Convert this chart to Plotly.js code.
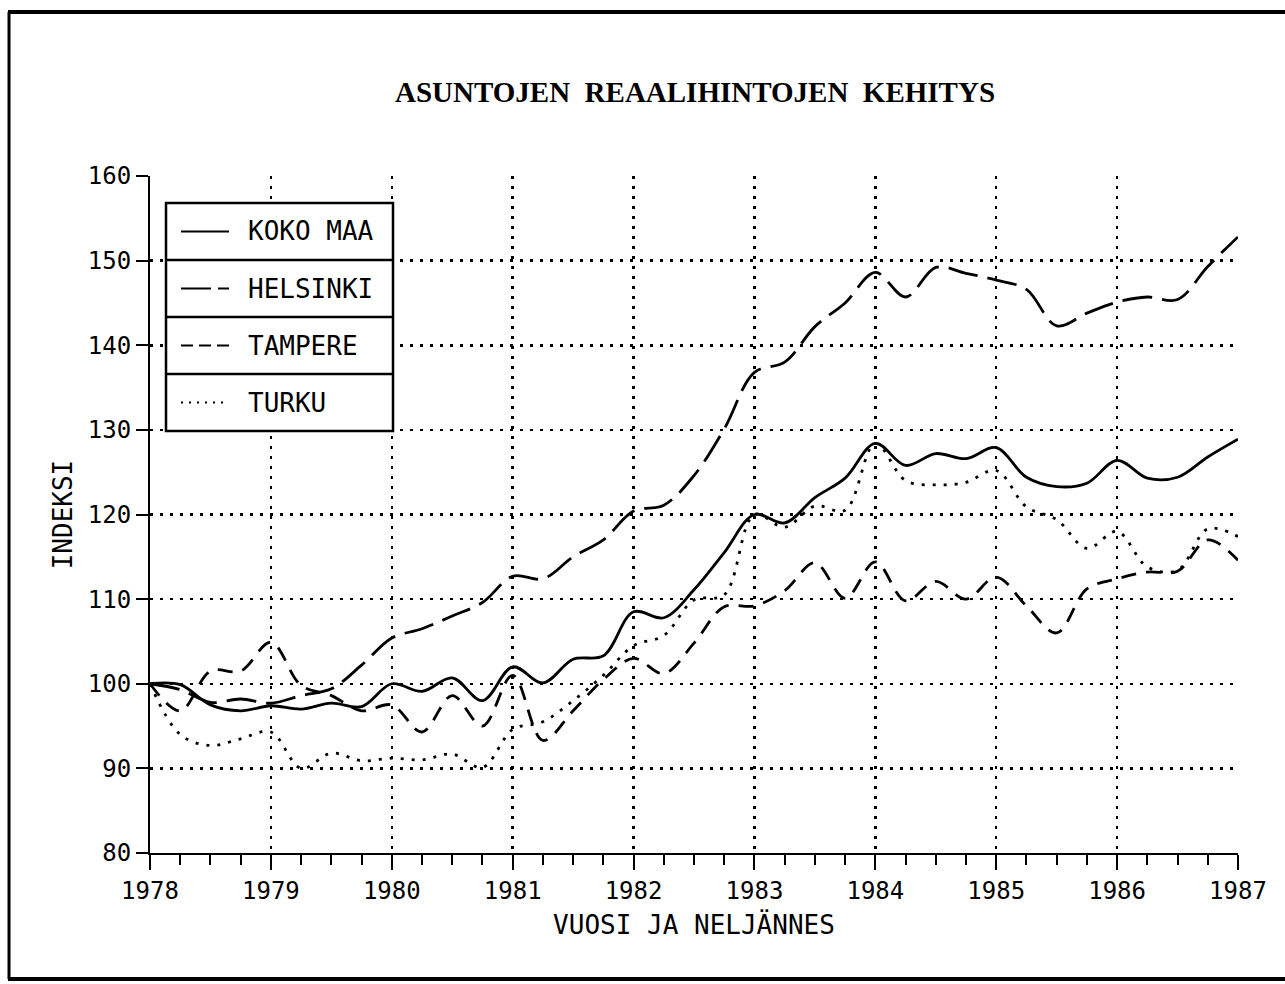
<!DOCTYPE html>
<html><head><meta charset="utf-8">
<script src="https://cdn.plot.ly/plotly-3.0.1.min.js"></script>
<style>html,body{margin:0;padding:0;background:#fff}#chart{width:1285px;height:984px}</style>
</head><body><div id="chart"></div>
<script>
const quarters = [1978.00,1978.25,1978.50,1978.75,1979.00,1979.25,1979.50,1979.75,
  1980.00,1980.25,1980.50,1980.75,1981.00,1981.25,1981.50,1981.75,
  1982.00,1982.25,1982.50,1982.75,1983.00,1983.25,1983.50,1983.75,
  1984.00,1984.25,1984.50,1984.75,1985.00,1985.25,1985.50,1985.75,
  1986.00,1986.25,1986.50,1986.75,1987.00];
const kokoMaa = [100.0,99.9,97.5,96.8,97.4,97.0,97.7,97.3,
  100.0,99.1,100.7,98.0,102.0,100.1,102.9,103.3,
  108.5,107.8,111.1,115.5,120.0,119.0,122.0,124.3,
  128.4,125.8,127.2,126.6,127.9,124.4,123.3,123.7,
  126.4,124.3,124.4,126.8,128.9];
const helsinki = [100.0,99.3,97.8,98.2,97.7,98.6,99.4,102.2,
  105.4,106.5,108.0,109.6,112.7,112.4,115.0,117.0,
  120.4,121.1,124.6,130.1,136.8,138.0,142.2,145.0,
  148.6,145.7,149.2,148.5,147.7,146.6,142.3,143.8,
  145.1,145.7,145.4,149.3,152.8];
const tampere = [100.0,96.8,101.5,101.5,104.9,99.8,98.6,96.8,
  97.5,94.3,98.6,95.0,101.0,93.3,96.8,100.5,
  103.0,101.2,104.8,109.1,109.2,111.0,114.3,110.1,
  114.4,109.8,112.1,110.0,112.6,109.2,106.0,111.2,
  112.4,113.2,113.3,117.0,114.6];
const turku = [100.0,94.0,92.7,93.5,94.3,90.0,91.8,90.9,
  91.2,91.0,91.7,90.1,94.6,95.5,98.0,101.0,
  104.5,105.7,109.9,110.5,120.0,118.5,121.0,120.5,
  128.4,124.0,123.5,123.8,125.2,120.9,119.4,116.0,
  118.0,113.8,113.4,118.3,117.4];
const seriesNames = ['KOKO MAA','HELSINKI','TAMPERE','TURKU'];
const yearTicks = [1978,1979,1980,1981,1982,1983,1984,1985,1986,1987];
const yearLabels = ['1978','1979','1980','1981','1982','1983','1984','1985','1986','1987'];
const yTicks = [80,90,100,110,120,130,140,150,160];

const seriesData = [kokoMaa, helsinki, tampere, turku];
const dashes = ['solid','30px,10px','15px,10px','3px,8px'];
const legendDashes = ['solid','30px,7px','12px,6px','2px,6px'];

const W = 1285, H = 984;
const M = {l:150, r:47, t:176, b:131};
const PW = W - M.l - M.r, PH = H - M.t - M.b;
const px = v => (v - M.l) / PW;
const py = v => (H - M.b - v) / PH;

const traces = seriesData.map((ys, i) => ({
  type: 'scatter', mode: 'lines', x: quarters, y: ys, name: seriesNames[i],
  line: {color: '#000', width: 2.8, dash: dashes[i], shape: 'spline', smoothing: 1},
  showlegend: false, hoverinfo: 'skip'
}));

const mono = 'DejaVu Sans Mono, monospace';
const shapes = [];
const annotations = [];
// page frame
const frame = {type:'line', xref:'paper', yref:'paper', line:{color:'#000', width:4}};
shapes.push(Object.assign({}, frame, {x0:px(8), x1:px(1285), y0:py(12), y1:py(12)}));
shapes.push(Object.assign({}, frame, {x0:px(8), x1:px(1285), y0:py(979), y1:py(979)}));
shapes.push(Object.assign({}, frame, {x0:px(9), x1:px(9), y0:py(12), y1:py(979), line:{color:'#000', width:3}}));
// legend box
const lgL = 166, lgR = 393, lgT = 203, cellH = 57;
shapes.push({type:'rect', xref:'paper', yref:'paper', x0:px(lgL), x1:px(lgR), y0:py(lgT), y1:py(lgT + 4*cellH),
  line:{color:'#000', width:2.5}, fillcolor:'#fff', layer:'above'});
seriesNames.forEach((n, i) => {
  const cy = lgT + cellH*i + cellH/2;
  if (i > 0) shapes.push({type:'line', xref:'paper', yref:'paper', x0:px(lgL), x1:px(lgR), y0:py(lgT + cellH*i), y1:py(lgT + cellH*i), line:{color:'#000', width:2.5}, layer:'above'});
  shapes.push({type:'line', xref:'paper', yref:'paper', x0:px(181), x1:px(229), y0:py(cy), y1:py(cy), line:{color:'#000', width:2, dash:legendDashes[i]}, layer:'above'});
  annotations.push({xref:'paper', yref:'paper', x:px(246), y:py(cy), xanchor:'left', yanchor:'middle', text:n, showarrow:false, font:{family:mono, size:26, color:'#000'}});
});

const layout = {
  width: W, height: H, margin: M,
  paper_bgcolor: '#fff', plot_bgcolor: '#fff',
  title: {text: 'ASUNTOJEN\u00A0\u00A0REAALIHINTOJEN\u00A0\u00A0KEHITYS', x: 695/W, xanchor: 'center', y: 1 - 92/H, yanchor: 'middle',
    font: {family: 'Liberation Serif, serif', size: 29, color: '#000', weight: 'bold'}},
  xaxis: {range: [1978, 1987], tickmode: 'array', tickvals: yearTicks, ticktext: yearLabels,
    ticks: 'outside', ticklen: 15, tickwidth: 2, tickcolor: '#000',
    showline: true, linewidth: 2, linecolor: '#000', zeroline: false,
    showgrid: true, gridcolor: '#000', gridwidth: 2.5, griddash: '2.5px,7.5px',
    minor: {tickmode: 'linear', tick0: 1978, dtick: 0.25, ticks: 'outside', ticklen: 10, tickwidth: 2, tickcolor: '#000', showgrid: false},
    tickfont: {family: mono, size: 24, color: '#000'},
    title: {text: 'VUOSI JA NELJÄNNES', standoff: 12, font: {family: mono, size: 26, color: '#000'}}},
  yaxis: {range: [80, 160], tickmode: 'array', tickvals: yTicks,
    ticks: 'outside', ticklen: 12, tickwidth: 2, tickcolor: '#000',
    showline: true, linewidth: 2, linecolor: '#000', zeroline: false,
    showgrid: true, gridcolor: '#000', gridwidth: 2.5, griddash: '2.5px,7.5px',
    tickfont: {family: mono, size: 24, color: '#000'},
    title: {text: 'INDEKSI', standoff: 8, font: {family: mono, size: 26, color: '#000'}}},
  shapes: shapes, annotations: annotations, showlegend: false
};

Plotly.newPlot('chart', traces, layout, {displayModeBar: false, staticPlot: true});
</script></body></html>
